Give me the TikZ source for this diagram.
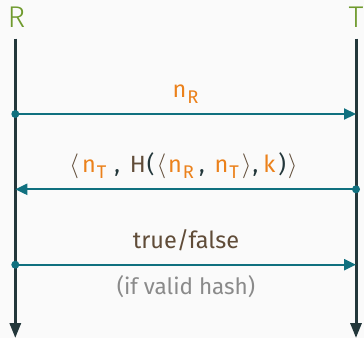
\documentclass[tikz,border=0pt]{standalone}
\usepackage{fontspec}
\setmainfont{Fira Sans}
\newfontfamily\rolefont{Fira Sans Light}
\usetikzlibrary{arrows.meta}
\definecolor{bgcol}{HTML}{FAFAFA}
\definecolor{lifecol}{HTML}{23373B}
\definecolor{msgcol}{HTML}{10707F}
\definecolor{rolecol}{HTML}{6F9A2D}
\definecolor{valcol}{HTML}{EB811B}
\definecolor{txtcol}{HTML}{604C38}
\definecolor{notecol}{HTML}{8A8A8A}
% subscripted nonce names
\newcommand\nonce[1]{{\color{valcol}n\hspace{1pt}\raisebox{-0.26em}{\scalebox{0.78}{#1}}}}
\newcommand\lang{{\color{txtcol}$\langle$}}
\newcommand\rang{{\color{txtcol}$\rangle$}}
\newcommand\dk[1]{{\color{lifecol}#1}}
\begin{document}
\begin{tikzpicture}[x=1pt,y=-1pt,
  lifeline/.style={line width=3pt,color=lifecol,-{Triangle[length=15pt,width=11pt]}},
  msg/.style={line width=2.2pt,color=msgcol,-{Triangle[length=12pt,width=11pt]}},
  origin/.style={circle,fill=msgcol,inner sep=0pt,minimum size=8pt},
  role/.style={anchor=base,text=rolecol,font=\rolefont\fontsize{30}{32}\selectfont,inner sep=0pt},
  lbl/.style={anchor=base,text=txtcol,font=\fontsize{23.5}{28}\selectfont,inner sep=0pt}]
\fill[bgcol] (0,0) rectangle (364,338);
\useasboundingbox (0,0) rectangle (364,338);

% participants
\node[role] (R) at (16.5,27.3) {R};
\node[role] (T) at (356,27.3) {T};
\coordinate (Rtop) at (15.3,38.5);
\coordinate (Rbot) at (15.3,338);
\coordinate (Ttop) at (356,38.5);
\coordinate (Tbot) at (356,338);
\draw[lifeline] (Rtop) -- (Rbot);
\draw[lifeline] (Ttop) -- (Tbot);

% message 1: R -> T
\coordinate (m1s) at (15.3,114);
\coordinate (m1e) at (356,114);
\draw[msg] (m1s) -- (m1e);
\node[origin] (d1) at (m1s) {};
\node[lbl] (l1) at (185.5,97.3) {\nonce{R}};

% message 2: T -> R
\coordinate (m2s) at (356,189.3);
\coordinate (m2e) at (15.3,189.3);
\draw[msg] (m2s) -- (m2e);
\node[origin] (d2) at (m2s) {};
\node[lbl] (l2) at (183.5,172) {\lang\hspace{3pt}\nonce{T}\hspace{8pt}\dk{,}\hspace{10pt}H\hspace{1pt}\dk{(}\hspace{2pt}\lang\hspace{2pt}\nonce{R}\hspace{5pt}\dk{,}\hspace{10pt}\nonce{T}\hspace{3pt}\rang\hspace{1pt}\dk{,}\hspace{5pt}{\color{valcol}k}\hspace{3pt}\dk{)}\hspace{2pt}\rang};

% message 3: R -> T
\coordinate (m3s) at (15.3,264.7);
\coordinate (m3e) at (356,264.7);
\draw[msg] (m3s) -- (m3e);
\node[origin] (d3) at (m3s) {};
\node[lbl] (l3) at (186,248.3) {true/false};
\node[lbl,text=notecol,font=\fontsize{22.5}{27}\selectfont] (l4) at (186,294) {(if valid hash)};
\end{tikzpicture}
\end{document}
